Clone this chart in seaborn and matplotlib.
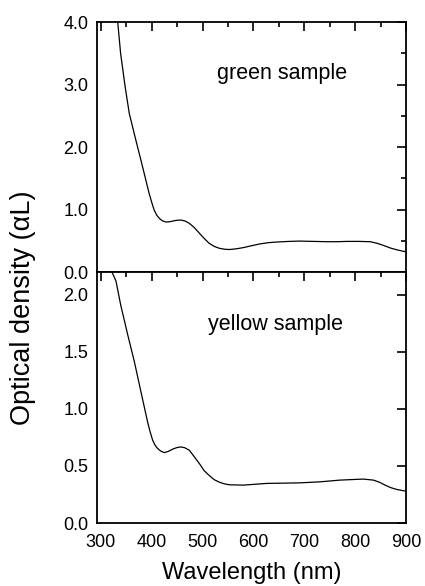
import numpy as np
import matplotlib
matplotlib.use("Agg")
import matplotlib.pyplot as plt
import seaborn as sns
from matplotlib.ticker import MultipleLocator, FormatStrFormatter

# green sample (top panel)
green_wl = [333, 339, 348, 356, 369, 382, 395, 400, 405, 410, 415, 421, 428, 436, 444,
            452, 459, 466, 474, 484, 494, 503, 513, 523, 533, 543, 553, 565, 580, 596,
            613, 630, 646, 670, 692, 718, 744, 764, 784, 808, 830, 843, 856, 869, 882,
            896, 900]
green_od = [4.03, 3.50, 2.96, 2.54, 2.11, 1.69, 1.26, 1.12, 0.99, 0.91, 0.86, 0.82, 0.80,
            0.805, 0.82, 0.83, 0.83, 0.815, 0.78, 0.71, 0.62, 0.54, 0.46, 0.41, 0.38, 0.365,
            0.36, 0.37, 0.39, 0.42, 0.45, 0.47, 0.48, 0.49, 0.495, 0.49, 0.485, 0.485, 0.49,
            0.49, 0.485, 0.46, 0.425, 0.385, 0.355, 0.33, 0.325]

# yellow sample (bottom panel)
yellow_wl = [320, 330, 339, 353, 366, 379, 392, 397, 402, 407, 412, 418, 425, 433, 441,
             449, 457, 465, 474, 484, 494, 503, 513, 523, 533, 543, 553, 580, 626, 692,
             731, 770, 816, 836, 848, 859, 870, 882, 896, 900]
yellow_od = [2.22, 2.12, 1.915, 1.65, 1.415, 1.15, 0.887, 0.80, 0.726, 0.68, 0.652, 0.63,
             0.617, 0.628, 0.647, 0.66, 0.667, 0.66, 0.638, 0.58, 0.52, 0.46, 0.417, 0.38,
             0.358, 0.343, 0.335, 0.332, 0.347, 0.352, 0.361, 0.376, 0.385, 0.376, 0.357,
             0.332, 0.31, 0.294, 0.282, 0.28]

sns.set_style("white")
plt.rcParams['font.family'] = ['Liberation Sans', 'DejaVu Sans']
plt.rcParams['text.color'] = 'black'

fig = plt.figure(figsize=(4.25, 5.86), dpi=100)
ax1 = fig.add_axes([0.2275, 0.5358, 0.7278, 0.4266])
ax2 = fig.add_axes([0.2275, 0.1075, 0.7278, 0.4283])

sns.lineplot(x=green_wl, y=green_od, ax=ax1, color='black', linewidth=0.9)
sns.lineplot(x=yellow_wl, y=yellow_od, ax=ax2, color='black', linewidth=0.9)

for ax in (ax1, ax2):
    ax.set_xlim(292, 900)
    ax.xaxis.set_major_locator(MultipleLocator(100))
    ax.xaxis.set_minor_locator(MultipleLocator(50))
    ax.tick_params(which='both', direction='in', top=True, right=True,
                   width=1.2, colors='black', labelsize=13)
    ax.tick_params(which='major', length=6.5)
    ax.tick_params(which='minor', length=3.5)
    ax.tick_params(axis='y', pad=6)
    ax.tick_params(axis='x', pad=8)
    for s in ax.spines.values():
        s.set_linewidth(1.3)
        s.set_color('black')
    ax.yaxis.set_major_formatter(FormatStrFormatter('%.1f'))

ax1.set_ylim(0, 4)
ax1.yaxis.set_major_locator(MultipleLocator(1.0))
ax1.yaxis.set_minor_locator(MultipleLocator(0.5))
ax1.tick_params(axis='x', labelbottom=False)

ax2.set_ylim(0, 2.2)
ax2.yaxis.set_major_locator(MultipleLocator(0.5))

ax1.text(0.599, 0.796, 'green sample', transform=ax1.transAxes,
         ha='center', va='center', fontsize=15.5, color='black')
ax2.text(0.577, 0.789, 'yellow sample', transform=ax2.transAxes,
         ha='center', va='center', fontsize=15.5, color='black')

fig.text(0.054, 0.475, 'Optical density (\u03b1L)', rotation=90,
         ha='center', va='center', fontsize=19.5, color='black')
fig.text(0.593, 0.022, 'Wavelength (nm)', ha='center', va='center',
         fontsize=17, color='black')

fig.savefig('out.png', dpi=100)
